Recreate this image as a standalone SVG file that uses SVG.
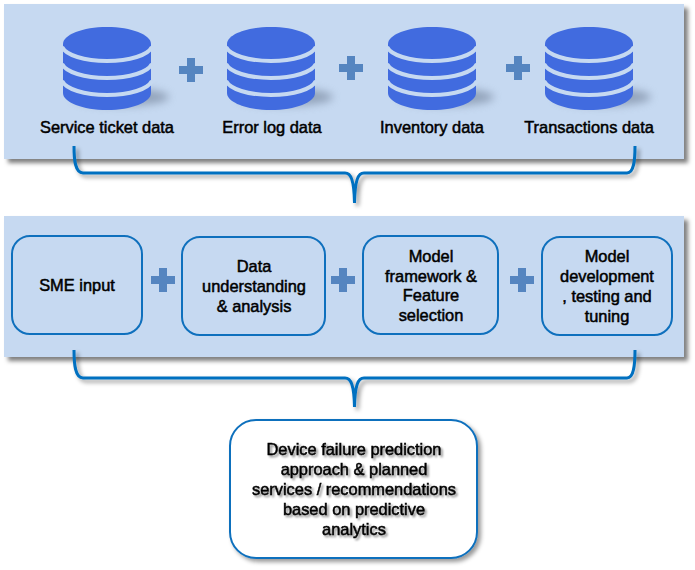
<svg xmlns="http://www.w3.org/2000/svg" width="695" height="570" viewBox="0 0 695 570">
<style>
.panel{fill:#c6d9f1;filter:url(#sh)}
.box{fill:#c6d9f1;stroke:#0f70bd;stroke-width:2}
.final{fill:#fff;stroke:#0f70bd;stroke-width:2;filter:url(#sh2)}
.brace{fill:none;stroke:#0070c0;stroke-width:3;filter:url(#sh2)}
.plus{fill:#5585c0}
text{font-family:"Liberation Sans",Arial,sans-serif;font-size:16.4px;font-weight:400;fill:#000;stroke:#000;stroke-width:.5;text-anchor:middle}
.fin{filter:url(#ts)}
.t{fill:#416bdf}
.gap{fill:none;stroke:#c6d9f1;stroke-width:4}
</style>
<defs>
<filter id="sh" x="-5%" y="-10%" width="110%" height="125%"><feDropShadow dx="4" dy="4" stdDeviation="2" flood-color="#000" flood-opacity=".5"/></filter>
<filter id="sh2" x="-10%" y="-20%" width="125%" height="140%"><feDropShadow dx="3" dy="3" stdDeviation="2" flood-color="#000" flood-opacity=".4"/></filter>
<filter id="ts" x="-10%" y="-30%" width="120%" height="170%"><feDropShadow dx="2" dy="2" stdDeviation="1.2" flood-color="#000" flood-opacity=".45"/></filter>
<filter id="cs" x="-30%" y="-100%" width="160%" height="300%"><feGaussianBlur stdDeviation="4"/></filter>
<g id="cyl">
<ellipse cx="58" cy="70" rx="48" ry="9" fill="#6f7f95" opacity=".6" filter="url(#cs)"/>
<path class="t" d="M0 17C0 7.600 19.700 0 44 0S88 7.600 88 17V66C88 75.400 68.300 83 44 83S0 75.400 0 66Z"/>
<path class="gap" d="M-1 20C3 28 21 34 44 34S85 28 89 20"/>
<path class="gap" d="M-1 37C3 45 21 51 44 51S85 45 89 37"/>
<path class="gap" d="M-1 54C3 62 21 68 44 68S85 62 89 54"/>
</g>
<path id="pl" class="plus" d="M-4-12H4V-4H12V4H4V12H-4V4H-12V-4H-4Z"/>
</defs>
<rect class="panel" x="4" y="4" width="680" height="155"/>
<rect class="panel" x="4" y="216" width="680" height="141"/>
<g id="connectors">
<path class="brace" d="M74 146C74 160 75 173 83 173H345C351 173 354 180 354.500 203C355 180 358 173 364 173H627C634 173 635 160 635 146"/>
<path class="brace" d="M74 350C74 364 75 378 83 378H345C351 378 354 385 354.500 407C355 385 358 378 364 378H627C634 378 635 364 635 350"/>
</g>
<g id="src1"><use href="#cyl" x="63" y="27"/><text x="107" y="133">Service ticket data</text></g>
<g id="src2"><use href="#cyl" x="227" y="27"/><text x="272" y="133">Error log data</text></g>
<g id="src3"><use href="#cyl" x="388" y="27"/><text x="432" y="133">Inventory data</text></g>
<g id="src4"><use href="#cyl" x="545" y="27"/><text x="589" y="133">Transactions data</text></g>
<g id="plus1"><use href="#pl" x="191" y="70"/></g>
<g id="plus2"><use href="#pl" x="351" y="68"/></g>
<g id="plus3"><use href="#pl" x="518" y="68"/></g>
<g id="plus4"><use href="#pl" x="163" y="280"/></g>
<g id="plus5"><use href="#pl" x="343" y="280"/></g>
<g id="plus6"><use href="#pl" x="522" y="280"/></g>
<g id="sme"><rect class="box" x="12" y="236" width="130" height="98" rx="18"/><text x="77" y="291">SME input</text></g>
<g id="understanding"><rect class="box" x="182" y="237" width="143" height="98" rx="18"/><text x="254" y="272">Data</text><text x="254" y="292">understanding</text><text x="254" y="312">&amp; analysis</text></g>
<g id="framework"><rect class="box" x="363" y="236" width="135" height="98" rx="18"/><text x="431" y="262">Model</text><text x="431" y="282">framework &amp;</text><text x="431" y="301">Feature</text><text x="431" y="321">selection</text></g>
<g id="development"><rect class="box" x="542" y="237" width="130" height="98" rx="18"/><text x="607" y="262">Model</text><text x="607" y="282">development</text><text x="607" y="302">, testing and</text><text x="607" y="322">tuning</text></g>
<g id="result"><rect class="final" x="230" y="420" width="247" height="138" rx="26"/>
<g class="fin"><text x="354" y="455">Device failure prediction</text><text x="354" y="475">approach &amp; planned</text><text x="354" y="495">services / recommendations</text><text x="354" y="515">based on predictive</text><text x="354" y="535">analytics</text></g></g>
</svg>
